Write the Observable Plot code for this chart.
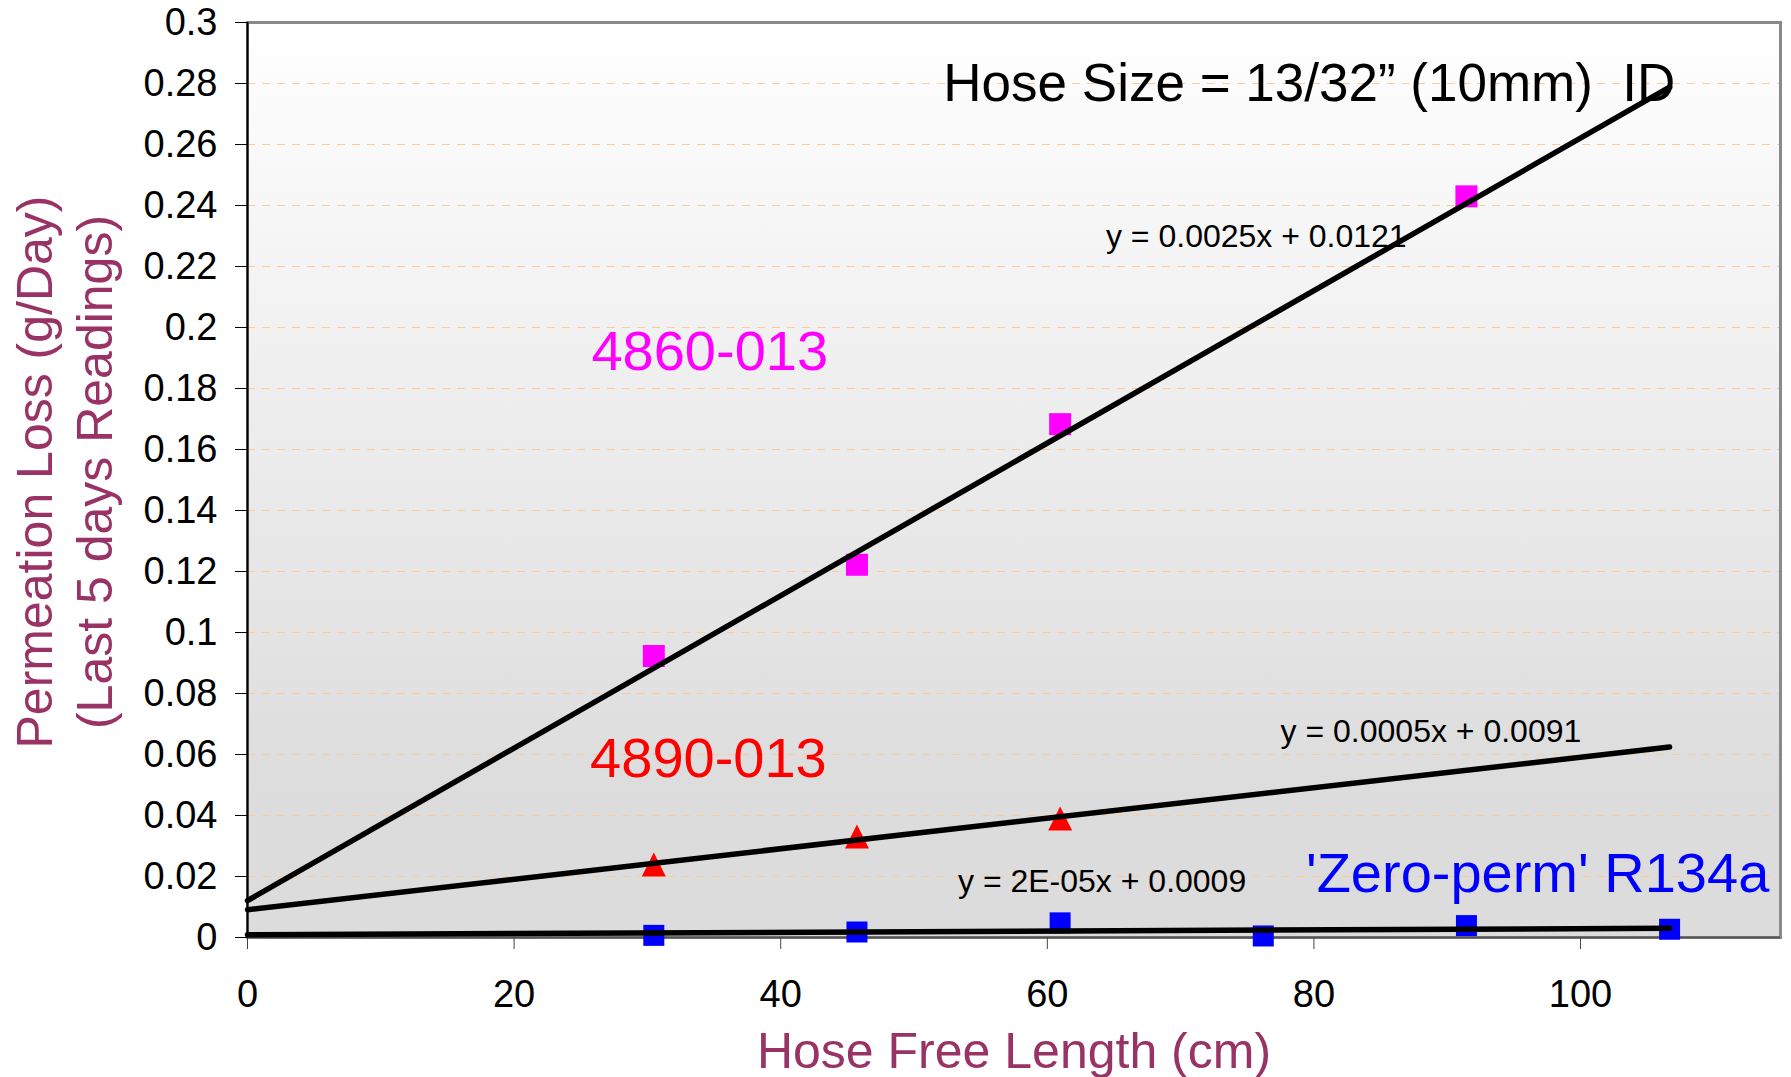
<!DOCTYPE html>
<html>
<head>
<meta charset="utf-8">
<script src="https://cdn.jsdelivr.net/npm/d3@7"></script>
<script src="https://cdn.jsdelivr.net/npm/@observablehq/plot@0.6"></script>
<style>
  body { margin: 0; background: #ffffff; }
  #chart svg { display: block; }
</style>
</head>
<body>
<div id="chart"></div>
<script>
// ---- Data ----
const len4860 = [30.48, 45.72, 60.96, 91.44];
const loss4860 = [0.0923, 0.1222, 0.1683, 0.2430];

const len4890 = [30.48, 45.72, 60.96];
const loss4890 = [0.0239, 0.0331, 0.0390];

const lenZero = [30.48, 45.72, 60.96, 76.2, 91.44, 106.68];
const lossZero = [0.0007, 0.0018, 0.0048, 0.0005, 0.0039, 0.0027];

// Trendline equations shown on the chart
const trendNames = ["4860-013", "4890-013", "Zero-perm"];
const trendSlope = [0.0025, 0.0005, 0.00002];
const trendIntercept = [0.0121, 0.0091, 0.0009];
const trendStart = [0, 0, 0];
const trendEnd = [106.68, 106.68, 106.68];
const trendLabels = ["y = 0.0025x + 0.0121", "y = 0.0005x + 0.0091", "y = 2E-05x + 0.0009"];
const trendLabelX = [64.4, 77.5, 53.3];
const trendLabelY = [0.2297, 0.0674, 0.0182];

// Series labels
const seriesLabels = ["4860-013", "4890-013", "'Zero-perm' R134a"];
const seriesLabelX = [25.8, 25.7, 79.4];
const seriesLabelY = [0.1918, 0.0584, 0.0207];
const seriesColors = ["#ff00ff", "#ff0000", "#0000ff"];

const titleText = "Hose Size = 13/32\u201d (10mm)  ID";
const titleX = 52.2;
const titleY = 0.2797;

const xTicks = [0, 20, 40, 60, 80, 100];
const yTicks = [0, 0.02, 0.04, 0.06, 0.08, 0.1, 0.12, 0.14, 0.16, 0.18, 0.2, 0.22, 0.24, 0.26, 0.28, 0.3];
const gridY = [0.02, 0.04, 0.06, 0.08, 0.1, 0.12, 0.14, 0.16, 0.18, 0.2, 0.22, 0.24, 0.26, 0.28];

const xLabel = "Hose Free Length (cm)";
const yLabel1 = "Permeation Loss (g/Day)";
const yLabel2 = "(Last 5 days Readings)";

// ---- Build tables ----
const pts4860 = len4860.map((x, i) => ({x, y: loss4860[i]}));
const pts4890 = len4890.map((x, i) => ({x, y: loss4890[i]}));
const ptsZero = lenZero.map((x, i) => ({x, y: lossZero[i]}));

const trendPts = [];
trendNames.forEach((name, i) => {
  [trendStart[i], trendEnd[i]].forEach(x => trendPts.push({name, x, y: trendSlope[i] * x + trendIntercept[i]}));
});
const trendText = trendLabels.map((t, i) => ({t, x: trendLabelX[i], y: trendLabelY[i]}));
const seriesText = seriesLabels.map((t, i) => ({t, x: seriesLabelX[i], y: seriesLabelY[i], c: seriesColors[i]}));

// Custom marker shapes
const squareSym = { draw(ctx, size) { const r = Math.sqrt(size / Math.PI); ctx.rect(-r, -r, 2 * r, 2 * r); } };
const triSym = { draw(ctx, size) { const r = Math.sqrt(size / Math.PI); ctx.moveTo(0, -r); ctx.lineTo(r, r); ctx.lineTo(-r, r); ctx.closePath(); } };

const FONT = '"Liberation Sans", Arial, Helvetica, sans-serif';
const LABEL_COLOR = "#993366";

const chart = Plot.plot({
  width: 1791,
  height: 1077,
  marginLeft: 247,
  marginRight: 11,
  marginTop: 22,
  marginBottom: 140,
  style: { fontFamily: FONT, background: "#ffffff", overflow: "visible" },
  x: { domain: [0, 115], label: null },
  y: { domain: [0, 0.3], label: null },
  marks: [
    Plot.frame({ fill: "url(#plotBg)", stroke: "none" }),
    Plot.ruleY(gridY, { stroke: "#ffcc99", strokeWidth: 1.2, strokeDasharray: "8,7" }),
    Plot.frame({ stroke: "#8a8a8a", strokeWidth: 3, fill: "none" }),
    Plot.ruleX([0], { stroke: "#000000", strokeWidth: 2 }),
    Plot.ruleY([0], { stroke: "#555555", strokeWidth: 2 }),
    Plot.axisY({ ticks: yTicks, tickSize: 12, tickPadding: 18, fontSize: 38, tickFormat: d => String(+d.toFixed(2)), label: null, stroke: "#000", fill: "#000" }),
    Plot.axisX({ ticks: xTicks, tickSize: 12, tickPadding: 31, fontSize: 38, label: null, stroke: "#444", fill: "#000" }),
    Plot.dot(pts4860, { x: "x", y: "y", symbol: squareSym, r: 11, fill: "#ff00ff", stroke: "none" }),
    Plot.dot(pts4890, { x: "x", y: "y", symbol: triSym, r: 12, fill: "#ff0000", stroke: "none" }),
    Plot.dot(ptsZero, { x: "x", y: "y", symbol: squareSym, r: 10.5, fill: "#0000ff", stroke: "none" }),
    Plot.line(trendPts, { x: "x", y: "y", z: "name", stroke: "#000000", strokeWidth: 5.5, strokeLinecap: "round" }),
    Plot.text(trendText, { x: "x", y: "y", text: "t", fontSize: 32, fill: "#000", textAnchor: "start", lineAnchor: "middle" }),
    Plot.text(seriesText, { x: "x", y: "y", text: "t", fill: "c", fontSize: 56, textAnchor: "start", lineAnchor: "middle" }),
    Plot.text([titleText], { x: () => titleX, y: () => titleY, fontSize: 53, fill: "#000", textAnchor: "start", lineAnchor: "middle" }),
    Plot.text([xLabel], { frameAnchor: "bottom", dy: 114, fontSize: 50, fill: LABEL_COLOR, textAnchor: "middle", lineAnchor: "middle" }),
    Plot.text([yLabel1], { frameAnchor: "left", rotate: -90, dx: -212, dy: -8, fontSize: 50, fill: LABEL_COLOR, textAnchor: "middle", lineAnchor: "middle" }),
    Plot.text([yLabel2], { frameAnchor: "left", rotate: -90, dx: -152, dy: -8, fontSize: 50, fill: LABEL_COLOR, textAnchor: "middle", lineAnchor: "middle" })
  ]
});

// gradient background for the plot area
const ns = "http://www.w3.org/2000/svg";
const defs = document.createElementNS(ns, "defs");
const grad = document.createElementNS(ns, "linearGradient");
grad.setAttribute("id", "plotBg");
grad.setAttribute("x1", "0"); grad.setAttribute("y1", "0");
grad.setAttribute("x2", "0"); grad.setAttribute("y2", "1");
[["0", "#ffffff"], ["0.85", "#dcdcdc"], ["1", "#dcdcdc"]].forEach(([o, c]) => {
  const s = document.createElementNS(ns, "stop");
  s.setAttribute("offset", o); s.setAttribute("stop-color", c);
  grad.appendChild(s);
});
defs.appendChild(grad);
chart.insertBefore(defs, chart.firstChild);

document.getElementById("chart").appendChild(chart);
</script>
</body>
</html>
